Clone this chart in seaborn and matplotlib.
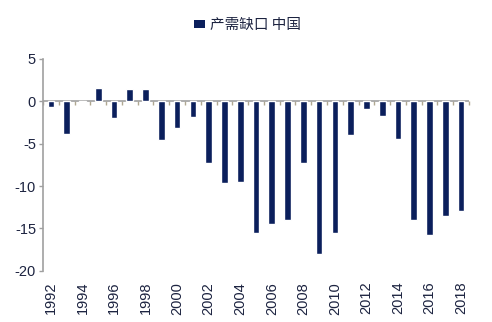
import matplotlib
matplotlib.use("Agg")
import matplotlib.pyplot as plt
from matplotlib.patches import Patch
import seaborn as sns
import pandas as pd
import numpy as np

years = [str(y) for y in range(1992, 2019)]
values = [-0.7, -3.9, -0.1, 1.6, -2.0, 1.5, 1.5, -4.6, -3.2, -1.9, -7.3, -9.7, -9.5,
          -15.5, -14.5, -14.0, -7.3, -18.0, -15.5, -4.0, -0.9, -1.7, -4.5, -14.0,
          -15.8, -13.5, -13.0]
series_name = "产需缺口 中国"
yticks = [-20, -15, -10, -5, 0, 5]

sns.set_theme(style="white")
plt.rcParams['font.family'] = ['Liberation Sans', 'Noto Sans CJK SC', 'DejaVu Sans']

bar_color = "#0b1f5c"
text_color = "#1c2340"
grey = "#a0a0a0"

df = pd.DataFrame({"year": years, "value": values})

fig = plt.figure(figsize=(4.92, 3.22), dpi=100)
ax = fig.add_axes([43/492, 1 - 270.7/322, (469-43)/492, (270.7-59)/322])

ax.axhline(0, color=grey, lw=1.2, zorder=0.5)
sns.barplot(data=df, x="year", y="value", color=bar_color,
            width=0.42, ax=ax, saturation=1, zorder=2)

ax.set_ylim(-20, 5)
ax.set_xlim(-0.5, len(years) - 0.5)
ax.set_yticks(yticks)
ax.set_yticklabels([str(t) for t in yticks], fontsize=10.5, color=text_color)
ax.tick_params(axis='y', direction='out', length=3, width=1, color=grey, pad=2, left=True)

ax.set_xticks(range(0, len(years), 2))
ax.set_xticklabels(years[::2], rotation=90, fontsize=10.5, color=text_color)
ax.tick_params(axis='x', length=0, pad=8)
ax.set_xlabel("")
ax.set_ylabel("")

for s in ['top', 'right', 'bottom']:
    ax.spines[s].set_visible(False)
ax.spines['left'].set_color(grey)
ax.spines['left'].set_linewidth(1.2)

# boundary ticks on the zero line
zero_frac = (0 - (-20)) / (5 - (-20))
sec = ax.secondary_xaxis(zero_frac)
sec.set_xticks(np.arange(-0.5, len(years) + 0.5, 1.0))
sec.set_xticklabels([])
sec.xaxis.set_ticks_position('bottom')
sec.tick_params(axis='x', direction='out', length=3, width=1, color="#b0a890",
                labelbottom=False, labeltop=False)
for s in sec.spines.values():
    s.set_visible(False)

handles = [Patch(facecolor=bar_color, edgecolor='none')]
leg = ax.legend(handles, [series_name], loc='upper center', bbox_to_anchor=(0.48, 1.255),
                frameon=False, fontsize=10.5, handlelength=0.75, handleheight=0.45,
                handletextpad=0.35)
for t in leg.get_texts():
    t.set_color(text_color)
    t.set_family(['Noto Sans CJK SC', 'DejaVu Sans'])

fig.savefig("out.png", dpi=100)
